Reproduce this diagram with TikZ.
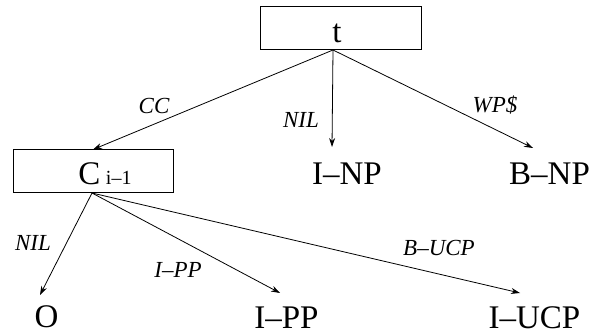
\documentclass[tikz,border=0pt]{standalone}
\usepackage{fontspec}
\setmainfont{Liberation Serif}
\usetikzlibrary{arrows.meta}
\tikzset{
  box/.style={draw, line width=1pt, rectangle, inner sep=0pt},
  word/.style={inner sep=0pt, anchor=base, font=\fontsize{33}{36}\selectfont},
  lbl/.style={inner sep=0pt, font=\fontsize{23}{26}\selectfont\itshape},
  link/.style={line width=0.8pt, -{Stealth[length=9pt,width=6pt]}}
}
\begin{document}
\begin{tikzpicture}[x=1pt,y=-1pt]
\useasboundingbox (0,0) rectangle (609,336);
% boxes
\node[box, minimum width=161pt, minimum height=43pt] (tbox) at (340.5,28.5) {};
\node[word] (ttext) at (337,43) {t};
\node[box, minimum width=160pt, minimum height=43pt] (cbox) at (93,171.5) {};
\node[word] (ctext) at (105,185) {C\,\fontsize{20}{22}\selectfont i--1};
% leaves
\node[word] (inp) at (347,185) {I--NP};
\node[word] (bnp) at (549.5,185) {B--NP};
\node[word] (o) at (46.5,327) {O};
\node[word] (ipp) at (286.5,328) {I--PP};
\node[word] (iucp) at (534.5,328) {I--UCP};
% connector ends
\coordinate (tout) at (333,50);
\coordinate (inpin) at (332,147);
\coordinate (bnpin) at (533,148);
\coordinate (oin) at (40,295);
\coordinate (ippin) at (280,293);
\coordinate (iucpin) at (520,293);
\coordinate (cout) at (92,193);
% connectors
\draw[link] (tout) -- (cbox.north);
\draw[link] (tout) -- (inpin);
\draw[link] (tout) -- (bnpin);
\draw[link] (cout) -- (oin);
\draw[link] (cout) -- (ippin);
\draw[link] (cout) -- (iucpin);
% labels
\node[lbl] (lcc) at (154,106) {CC};
\node[lbl] (lnil1) at (301,120) {NIL};
\node[lbl] (lwp) at (495,105) {WP\$};
\node[lbl] (lnil2) at (33,243) {NIL};
\node[lbl] (lipp) at (178,270) {I--PP};
\node[lbl] (lbucp) at (439,248) {B--UCP};
\end{tikzpicture}
\end{document}
